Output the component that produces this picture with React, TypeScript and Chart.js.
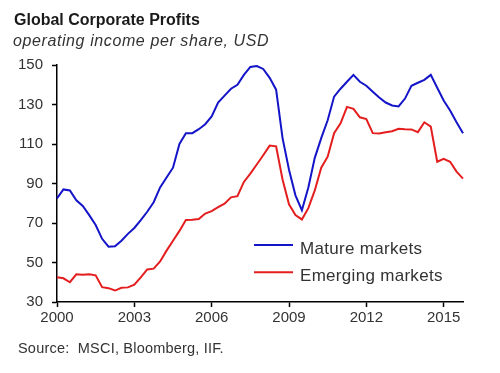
import React, { useEffect, useRef } from "react";
import { Chart, registerables } from "chart.js";

Chart.register(...registerables);

// ---- data (quarterly, 2000Q1 .. 2015Q4) ----
const YEARS = [2000, 2001, 2002, 2003, 2004, 2005, 2006, 2007, 2008, 2009, 2010, 2011, 2012, 2013, 2014, 2015];
const QUARTERS = ["Q1", "Q2", "Q3", "Q4"];
const periods: string[] = [];
YEARS.forEach((y) => QUARTERS.forEach((q) => periods.push(`${y}${q}`)));

const matureMarkets = [
  82.5, 87, 86.5, 81.5, 78.6, 74, 69, 62,
  58, 58.2, 61, 64.5, 67.5, 71.5, 75.7, 80.5,
  88, 93, 98, 110, 115.5, 115.5, 117.5, 120,
  124, 131, 134.5, 138, 140, 145, 149, 149.5,
  148, 143.5, 137.5, 113, 97, 84, 76.5, 88,
  103, 113, 122, 134, 138, 141.5, 145, 141.5,
  139.5, 136.5, 133.5, 131, 129.5, 129, 133, 139.5,
  141, 142.5, 145, 138.5, 132, 127, 121, 115.5,
];

const emergingMarkets = [
  42.5, 42, 40, 44, 43.8, 44, 43.5, 37.5,
  37, 35.8, 37.2, 37.4, 38.8, 42.5, 46.5, 46.9,
  50.5, 56, 61, 66, 71.5, 71.6, 72, 74.8,
  76, 78, 79.8, 83, 83.6, 90.8, 95, 99.6,
  104.3, 109.2, 108.8, 92, 79.5, 74, 71.8, 77.5,
  86.5, 98, 103.6, 115.5, 120.5, 128.8, 127.8, 123.5,
  122.6, 115.5, 115.3, 116, 116.5, 117.7, 117.5, 117.4,
  116, 121, 118.8, 101, 102.5, 101, 96, 92.5,
];

const TICK_YEARS = ["2000", "2003", "2006", "2009", "2012", "2015"];
const Y_MIN = 30;
const Y_MAX = 150;
const Y_STEP = 20;

const TITLE = "Global Corporate Profits";
const SUBTITLE = "operating income per share, USD";
const SOURCE = "Source:  MSCI, Bloomberg, IIF.";

const FONT = "'Liberation Sans', Arial, sans-serif";
const TEXT_COLOR = "#333333";

const legendPlugin = {
  id: "inlineLegend",
  afterDraw(chart: any) {
    const ctx = chart.ctx;
    ctx.save();
    const x0 = 254;
    const x1 = 293;
    const textX = 300;
    const startY = 245;
    const gap = 27.3;
    chart.data.datasets.forEach((ds: any, i: number) => {
      const y = startY + i * gap;
      ctx.strokeStyle = ds.borderColor;
      ctx.lineWidth = 2;
      ctx.beginPath();
      ctx.moveTo(x0, y);
      ctx.lineTo(x1, y);
      ctx.stroke();
      ctx.fillStyle = TEXT_COLOR;
      ctx.font = `17px ${FONT}`;
      ctx.textBaseline = "alphabetic";
      ctx.textAlign = "left";
      if ("letterSpacing" in ctx) (ctx as any).letterSpacing = "0.3px";
      ctx.fillText(ds.label, textX, y + 8.8);
    });
    ctx.restore();
  },
};

export default function App() {
  const canvasRef = useRef<HTMLCanvasElement | null>(null);

  useEffect(() => {
    if (!canvasRef.current) return;
    const chart = new Chart(canvasRef.current, {
      type: "line",
      data: {
        labels: periods,
        datasets: [
          {
            label: "Mature markets",
            data: matureMarkets,
            borderColor: "#1414c8",
            borderWidth: 2,
            pointRadius: 0,
            tension: 0,
            fill: false,
          },
          {
            label: "Emerging markets",
            data: emergingMarkets,
            borderColor: "#e41e1e",
            borderWidth: 2,
            pointRadius: 0,
            tension: 0,
            fill: false,
          },
        ],
      },
      options: {
        animation: false,
        responsive: false,
        maintainAspectRatio: false,
        layout: { padding: { top: 65, right: 37, bottom: 0, left: 0 } },
        plugins: {
          legend: { display: false },
          title: { display: false },
          tooltip: { enabled: false },
        },
        scales: {
          x: {
            type: "category",
            offset: false,
            afterBuildTicks: (scale: any) => {
              scale.ticks = scale.ticks.filter((t: any) => {
                const lab = periods[t.value];
                return lab.endsWith("Q1") && TICK_YEARS.includes(lab.slice(0, 4));
              });
            },
            afterFit: (scale: any) => {
              scale.height = 71;
            },
            ticks: {
              autoSkip: false,
              maxRotation: 0,
              padding: 2,
              color: TEXT_COLOR,
              font: { family: FONT, size: 15 },
              callback: (value: any) => periods[value as number].slice(0, 4),
            },
            grid: {
              drawOnChartArea: false,
              drawTicks: true,
              tickLength: 5,
              tickColor: "#000000",
              tickWidth: 1.5,
            },
            border: { display: true, color: "#000000", width: 1.5 },
          },
          y: {
            type: "linear",
            min: Y_MIN,
            max: Y_MAX,
            afterFit: (scale: any) => {
              scale.width = 57;
            },
            ticks: {
              stepSize: Y_STEP,
              padding: 9,
              color: TEXT_COLOR,
              font: { family: FONT, size: 15 },
            },
            grid: {
              drawOnChartArea: false,
              drawTicks: true,
              tickLength: 5,
              tickColor: "#000000",
              tickWidth: 1.5,
            },
            border: { display: true, color: "#000000", width: 1.5 },
          },
        },
      },
      plugins: [legendPlugin],
    });
    return () => chart.destroy();
  }, []);

  return (
    <div
      style={{
        position: "fixed",
        left: 0,
        top: 0,
        width: 500,
        height: 373,
        background: "#ffffff",
        fontFamily: FONT,
        overflow: "hidden",
      }}
    >
      <canvas
        ref={canvasRef}
        width={500}
        height={373}
        style={{ position: "absolute", left: 0, top: 0, width: 500, height: 373 }}
      />
      <div
        style={{
          position: "absolute",
          left: 14,
          top: 11.5,
          fontSize: 16,
          lineHeight: 1,
          fontWeight: "bold",
          color: "#1a1a1a",
          whiteSpace: "nowrap",
        }}
      >
        {TITLE}
      </div>
      <div
        style={{
          position: "absolute",
          left: 13,
          top: 33.2,
          fontSize: 16,
          lineHeight: 1,
          fontStyle: "italic",
          letterSpacing: 0.6,
          color: TEXT_COLOR,
          whiteSpace: "nowrap",
        }}
      >
        {SUBTITLE}
      </div>
      <div
        style={{
          position: "absolute",
          left: 18,
          top: 341,
          fontSize: 14.5,
          lineHeight: 1,
          letterSpacing: 0.2,
          color: TEXT_COLOR,
          whiteSpace: "pre",
        }}
      >
        {SOURCE}
      </div>
    </div>
  );
}
